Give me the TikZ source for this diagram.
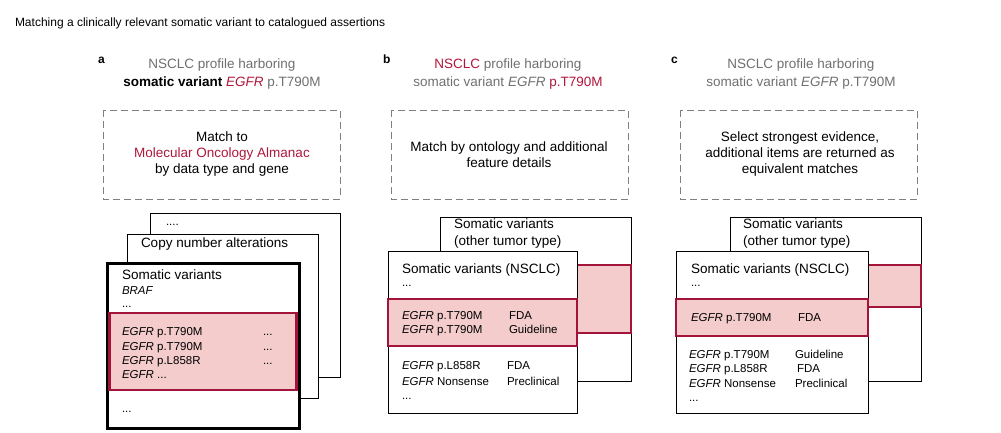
\documentclass[tikz,border=0pt]{standalone}
\usepackage{fontspec}
\setmainfont{Liberation Sans}
\definecolor{almanac}{HTML}{B0173D}
\definecolor{hlfill}{HTML}{F4CCCC}
\definecolor{hlline}{HTML}{A3143A}
\definecolor{graytext}{HTML}{707070}
\definecolor{dashgray}{HTML}{808080}
\tikzset{
  every node/.style={inner sep=0pt, outer sep=0pt},
  figtitle/.style={font=\fontsize{12}{14}\selectfont, anchor=base west},
  panel/.style={font=\bfseries\fontsize{12}{14}\selectfont, anchor=base west},
  header/.style={font=\fontsize{13.5}{18}\selectfont, text=graytext, align=center},
  stepnote/.style={font=\fontsize{13.5}{16}\selectfont, align=center},
  dashbox/.style={draw=dashgray, line width=1pt, dash pattern=on 7pt off 4pt},
  sheet/.style={draw=black, fill=white, line width=1pt},
  hl/.style={draw=hlline, fill=hlfill, line width=2.5pt},
  heading/.style={font=\fontsize{13.5}{16}\selectfont, anchor=base west},
  entry/.style={font=\fontsize{11.5}{14}\selectfont, anchor=base west},
}
\newcommand{\gene}{\textit{EGFR}}
\begin{document}
\begin{tikzpicture}[x=1pt, y=-1pt]
    \useasboundingbox[fill=white] (0,0) rectangle (1001,432);
    \node[figtitle] (title) at (15,26.5) {Matching a clinically relevant somatic variant to catalogued assertions};

    \node[panel] (labA) at (98,63) {a};
    \node[panel] (labB) at (383,63) {b};
    \node[panel] (labC) at (671,63) {c};

    \node[header] (hdrA) at (222,74) {NSCLC profile harboring\\{\color{black}\bfseries somatic variant} {\color{almanac}\itshape EGFR} p.T790M};
    \node[header] (hdrB) at (508,74) {{\color{almanac}NSCLC} profile harboring\\somatic variant \gene{} {\color{almanac}p.T790M}};
    \node[header] (hdrC) at (801,74) {NSCLC profile harboring\\somatic variant \gene{} p.T790M};

    \draw[dashbox] (103,110) rectangle (340,199);
    \draw[dashbox] (391,110) rectangle (628,199);
    \draw[dashbox] (680,110) rectangle (917,199);
    \node[stepnote] (noteA) at (222,154.5) {Match to\\{\color{almanac}Molecular Oncology Almanac}\\by data type and gene};
    \node[stepnote] (noteB) at (509,154.5) {Match by ontology and additional\\feature details};
    \node[stepnote] (noteC) at (800,154.5) {Select strongest evidence,\\additional items are returned as\\equivalent matches};

    \draw[sheet] (150,213) rectangle (340,377);
    \node[entry] (moreA) at (166,225) {....};
    \draw[sheet] (127,234) rectangle (318,398);
    \node[heading] (cnaA) at (141,247) {Copy number alterations};
    \draw[sheet, line width=3pt] (107,263) rectangle (299,428);
    \node[heading] (svA) at (122,279) {Somatic variants};
    \node[entry] (brafA) at (122,294) {\textit{BRAF}};
    \node[entry] (dotsA) at (122,307) {...};
    \draw[hl] (109.7,313) rectangle (296.3,390);
    \foreach \txt/\yy [count=\i] in {p.T790M/335, p.T790M/350, p.L858R/364}{
        \node[entry] (rowA\i) at (122,\yy) {\gene{} \txt};
        \node[entry] (evA\i) at (263,\yy) {...};
    }
    \node[entry] (rowA4) at (122,378) {\gene{} ...};
    \node[entry] (endA) at (122,412) {...};

    \draw[sheet] (440,217) rectangle (631,381);
    \node[heading] (otherB) at (454,228.5) {Somatic variants};
    \node[heading] (otherB2) at (454,245) {(other tumor type)};
    \draw[hl] (560,265) rectangle (631,333);
    \draw[sheet] (388,251) rectangle (577,413);
    \node[heading] (svB) at (402,273) {Somatic variants (NSCLC)};
    \node[entry] (dotsB) at (402,286) {...};
    \draw[hl] (388,299) rectangle (577,346);
    \node[entry] (rowB1) at (402,319) {\gene{} p.T790M};
    \node[entry] (evB1) at (509,319) {FDA};
    \node[entry] (rowB2) at (402,333) {\gene{} p.T790M};
    \node[entry] (evB2) at (509,333) {Guideline};
    \node[entry] (rowB3) at (402,369) {\gene{} p.L858R};
    \node[entry] (evB3) at (507,369) {FDA};
    \node[entry] (rowB4) at (402,385) {\gene{} Nonsense};
    \node[entry] (evB4) at (507,385) {Preclinical};
    \node[entry] (endB) at (402,399) {...};

    \draw[sheet] (730,217) rectangle (921,381);
    \node[heading] (otherC) at (743,228.5) {Somatic variants};
    \node[heading] (otherC2) at (743,245) {(other tumor type)};
    \draw[hl] (850,265) rectangle (921,307);
    \draw[sheet] (676,251) rectangle (868,413);
    \node[heading] (svC) at (691,273) {Somatic variants (NSCLC)};
    \node[entry] (dotsC) at (691,286) {...};
    \draw[hl] (676,299) rectangle (868,336);
    \node[entry] (rowC1) at (691,321) {\gene{} p.T790M};
    \node[entry] (evC1) at (798,321) {FDA};
    \node[entry] (rowC2) at (689,358) {\gene{} p.T790M};
    \node[entry] (evC2) at (795,358) {Guideline};
    \node[entry] (rowC3) at (689,372) {\gene{} p.L858R};
    \node[entry] (evC3) at (797,372) {FDA};
    \node[entry] (rowC4) at (689,387) {\gene{} Nonsense};
    \node[entry] (evC4) at (795,387) {Preclinical};
    \node[entry] (endC) at (689,401) {...};
\end{tikzpicture}
\end{document}
